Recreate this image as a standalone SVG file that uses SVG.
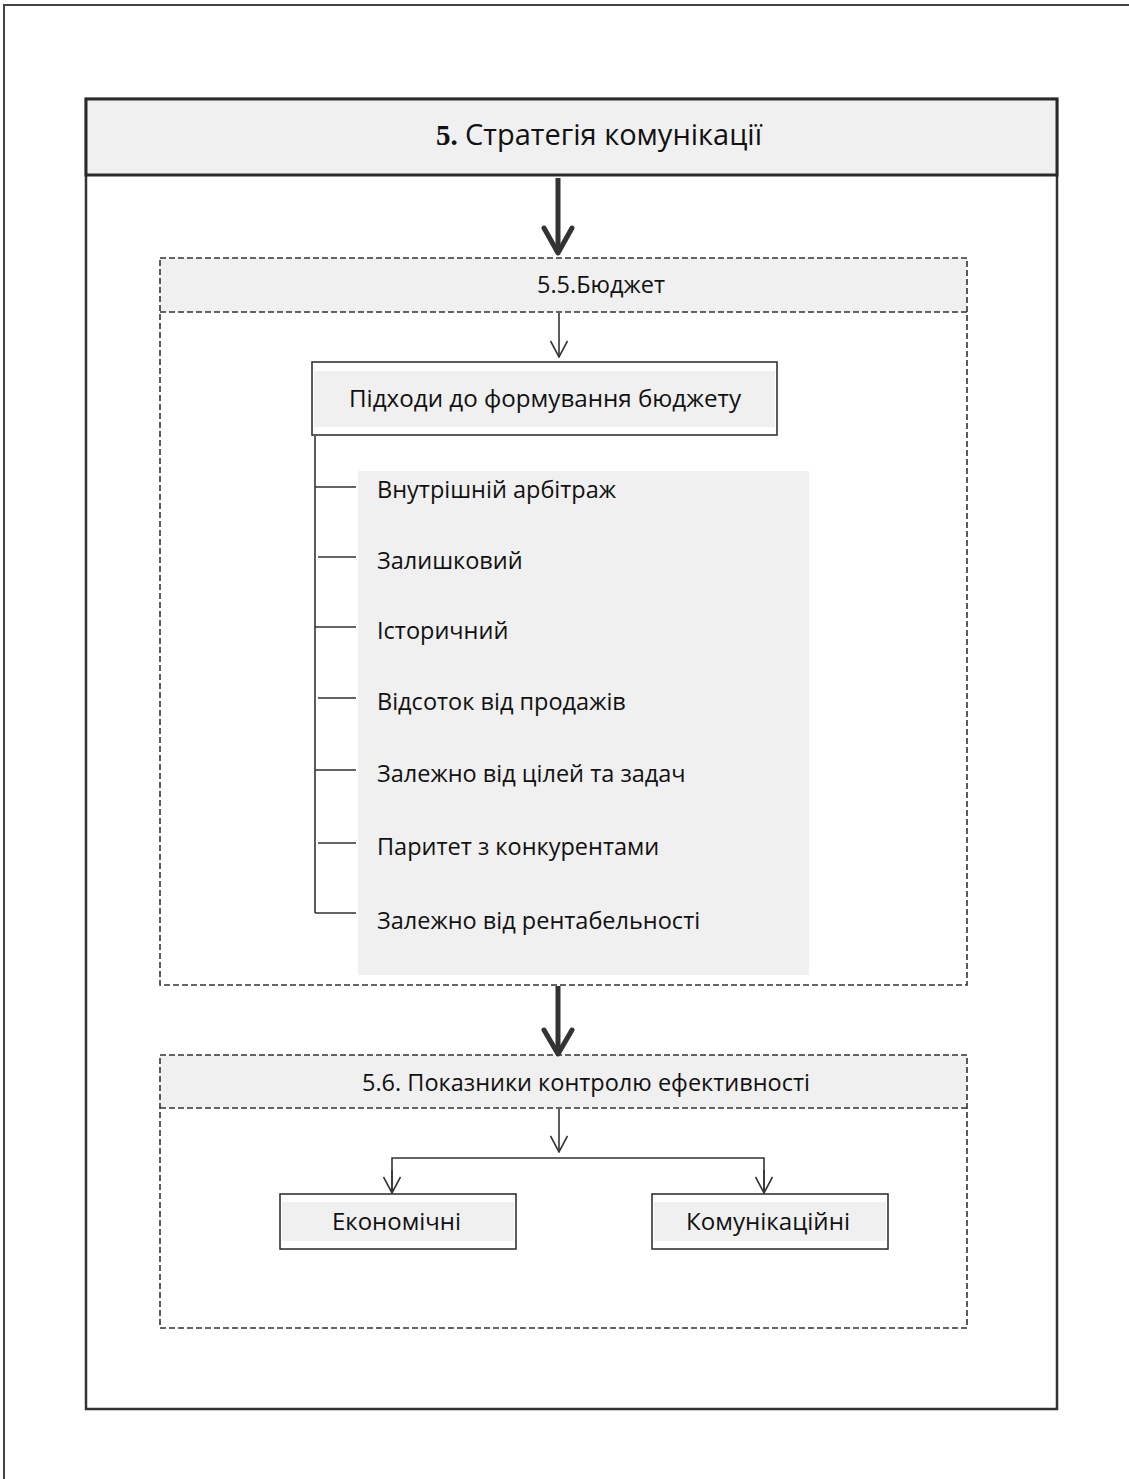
<svg xmlns="http://www.w3.org/2000/svg" width="1129" height="1479" viewBox="0 0 1129 1479">
  <style>
    .frame { fill: none; stroke: #444; stroke-width: 2; }
    .solid { stroke: #333; stroke-width: 2.5; }
    .band { fill: #f0f0f0; }
    .dash { fill: none; stroke: #333; stroke-width: 1.6; stroke-dasharray: 6 3; }
    .thin { fill: none; stroke: #333; stroke-width: 1.6; }
    .thick { fill: none; stroke: #333; stroke-width: 5; }
    .lbl { font-family: "Open Sans", "Noto Sans", "Liberation Sans", sans-serif; font-size: 23.5px; fill: #111; }
  </style>
  <defs>
    <marker id="thinHead" markerWidth="18" markerHeight="18" refX="17" refY="9" orient="auto" markerUnits="userSpaceOnUse" viewBox="0 0 18 18">
      <path d="M1 0.5 L17 9 L1 17.5" fill="none" stroke="#333" stroke-width="1.6"/>
    </marker>
  </defs>

  <rect width="1129" height="1479" fill="#fff"/>

  <!-- outer page frame -->
  <path class="frame" d="M4 1479 V5 H1129"/>

  <!-- main block: communication strategy -->
  <g id="strategy">
    <rect x="86" y="99" width="971" height="1310" fill="#fff" class="solid"/>
    <rect x="86" y="99" width="971" height="76" class="band" stroke="#2a2a2a" stroke-width="3"/>
    <text x="436" y="145" font-family="Liberation Serif, serif" font-weight="bold" font-size="29" fill="#111">5.</text>
    <text x="465" y="145" font-family="Open Sans, Noto Sans, sans-serif" font-size="30" fill="#111" textLength="297" lengthAdjust="spacingAndGlyphs">Стратегія комунікації</text>
  </g>

  <!-- section 5.5 budget -->
  <g id="budget">
    <rect x="160" y="258" width="807" height="54" class="band"/>
    <rect x="160" y="258" width="807" height="727" class="dash"/>
    <line x1="160" y1="312" x2="967" y2="312" class="dash"/>
    <text x="537" y="293" class="lbl">5.5.Бюджет</text>
  </g>

  <g id="approaches">
    <rect x="312" y="362" width="465" height="73" fill="#fff" class="thin" stroke-width="2"/>
    <rect x="314" y="371" width="461" height="56" class="band"/>
    <text x="349" y="407" class="lbl" textLength="392" lengthAdjust="spacingAndGlyphs">Підходи до формування бюджету</text>
  </g>

  <g id="approach-list">
    <rect x="358" y="471" width="451" height="504" class="band"/>
    <text x="377" y="498" class="lbl">Внутрішній арбітраж</text>
    <text x="377" y="569" class="lbl">Залишковий</text>
    <text x="377" y="639" class="lbl">Історичний</text>
    <text x="377" y="710" class="lbl">Відсоток від продажів</text>
    <text x="377" y="782" class="lbl">Залежно від цілей та задач</text>
    <text x="377" y="855" class="lbl">Паритет з конкурентами</text>
    <text x="377" y="929" class="lbl">Залежно від рентабельності</text>
  </g>

  <!-- section 5.6 efficiency indicators -->
  <g id="indicators">
    <rect x="160" y="1055" width="807" height="53" class="band"/>
    <rect x="160" y="1055" width="807" height="273" class="dash"/>
    <line x1="160" y1="1108" x2="967" y2="1108" class="dash"/>
    <text x="362" y="1091" class="lbl">5.6. Показники контролю ефективності</text>
  </g>

  <g id="economic">
    <rect x="280" y="1194" width="236" height="55" fill="#fff" class="thin" stroke-width="2"/>
    <rect x="282" y="1202" width="232" height="39" class="band"/>
    <text x="332" y="1230" class="lbl" font-size="22" textLength="129" lengthAdjust="spacingAndGlyphs">Економічні</text>
  </g>

  <g id="communicative">
    <rect x="652" y="1194" width="236" height="55" fill="#fff" class="thin" stroke-width="2"/>
    <rect x="654" y="1202" width="232" height="39" class="band"/>
    <text x="686" y="1230" class="lbl" font-size="22" textLength="164" lengthAdjust="spacingAndGlyphs">Комунікаційні</text>
  </g>

  <!-- connectors -->
  <g id="connectors">
    <!-- heavy arrows between levels -->
    <path class="thick" d="M558 178 V253"/>
    <path class="thick" stroke-linecap="round" stroke-linejoin="round" d="M544 228 L558 253 L572 228"/>
    <path class="thick" d="M558 986 V1054"/>
    <path class="thick" stroke-linecap="round" stroke-linejoin="round" d="M544 1030 L558 1054 L572 1030"/>

    <!-- light arrows -->
    <path class="thin" d="M559 313 V357" marker-end="url(#thinHead)"/>
    <path class="thin" d="M559 1109 V1152" marker-end="url(#thinHead)"/>
    <path class="thin" d="M392 1193 V1158 H764 V1193"/>
    <path class="thin" d="M392 1170 V1193" marker-end="url(#thinHead)"/>
    <path class="thin" d="M764 1170 V1193" marker-end="url(#thinHead)"/>

    <!-- list bracket -->
    <path class="thin" d="M315 436 V913"/>
    <path class="thin" d="M315 487 H356 M318 557 H356 M315 627 H356 M318 698 H356 M315 770 H356 M318 843 H356 M315 913 H356"/>
  </g>
</svg>
